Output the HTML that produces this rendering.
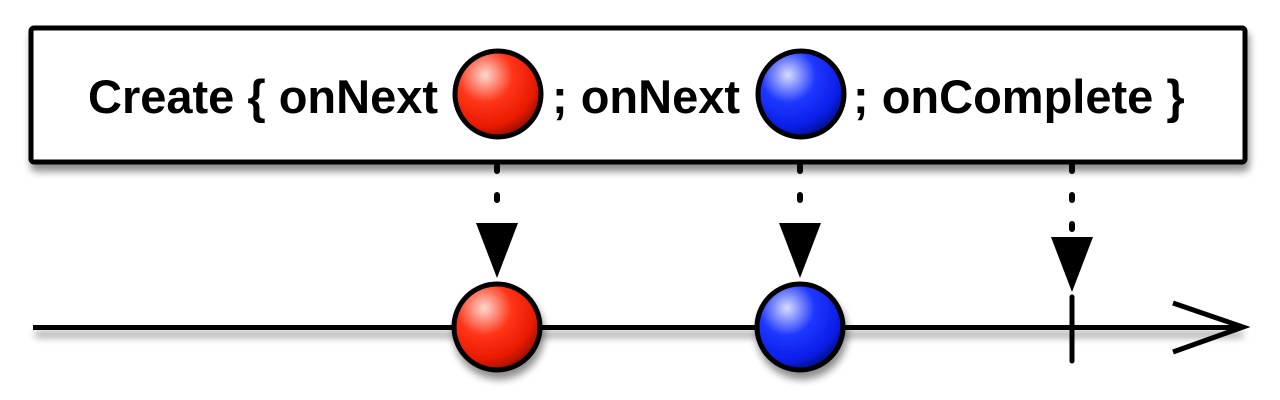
<!DOCTYPE html>
<html><head><meta charset="utf-8"><style>
html,body{margin:0;padding:0;background:#fff;width:1280px;height:400px;overflow:hidden}
svg text{font-family:"Liberation Sans",Arial,sans-serif;font-weight:bold;font-size:47px;fill:#000}
</style></head><body>
<svg id="chart" width="1280" height="400" viewBox="0 0 1280 400" xmlns="http://www.w3.org/2000/svg">
<defs>
<radialGradient id="gRed" cx="0.35" cy="0.28" r="0.8">
<stop offset="0" stop-color="#ffd8d0"/><stop offset="0.4" stop-color="#ff3518"/><stop offset="0.75" stop-color="#e81a00"/><stop offset="1" stop-color="#7a0a00"/></radialGradient>
<radialGradient id="gBlue" cx="0.35" cy="0.28" r="0.8">
<stop offset="0" stop-color="#d8dcff"/><stop offset="0.4" stop-color="#1e38ff"/><stop offset="0.75" stop-color="#0a1ee8"/><stop offset="1" stop-color="#000a70"/></radialGradient>
<filter id="sh" filterUnits="userSpaceOnUse" x="0" y="0" width="1280" height="400"><feGaussianBlur in="SourceAlpha" stdDeviation="4"/><feOffset dx="2" dy="7"/><feComponentTransfer><feFuncA type="linear" slope="0.45"/></feComponentTransfer><feMerge><feMergeNode/><feMergeNode in="SourceGraphic"/></feMerge></filter>
</defs>
<rect x="31" y="28" width="1214" height="134" rx="3" fill="#fff" stroke="#000" stroke-width="5" filter="url(#sh)"/>
<text x="88" y="113">Create { onNext</text>
<text x="552" y="113">; onNext</text>
<text x="853" y="113">; onComplete }</text>
<g id="topLayer"></g>
<rect x="33" y="325" width="1208" height="5" fill="#000" filter="url(#sh)"/>
<polyline points="1173,303 1243,327 1173,352" fill="none" stroke="#000" stroke-width="5"/>
<g id="marks"></g>
</svg>
<script>
const eventTimes = [4.64, 7.67, 10.39];
const eventTypes = ["next", "next", "complete"];
const eventColors = ["red", "blue", null];
const NS = "http://www.w3.org/2000/svg";
function xScale(t){ return 33 + t * 100; }
const marksG = document.getElementById("marks");
const topG = document.getElementById("topLayer");
function mk(tag, attrs, parent){ const e=document.createElementNS(NS,tag); for(const k in attrs) e.setAttribute(k,attrs[k]); parent.appendChild(e); return e; }
eventTimes.forEach((t,i)=>{
  const x = xScale(t);
  const isNext = eventTypes[i]==="next";
  const d = mk("line",{x1:x,y1:166,x2:x,y2:isNext?224:234,stroke:"#000","stroke-width":6,"stroke-linecap":"round","stroke-dasharray":"5 24"},topG);
  
  
  const ty = isNext ? 223 : 237;
  const tri = mk("polygon",{points:`${x-21},${ty} ${x+21},${ty} ${x},${ty+55}`,fill:"#000"},topG);
  
  
  if(isNext){
    const fill = eventColors[i]==="red" ? "url(#gRed)" : "url(#gBlue)";
    const c1 = mk("circle",{cx:x+1,cy:94,r:43,fill:fill,stroke:"#000","stroke-width":5},topG);
    
    
    const c2 = mk("circle",{cx:x,cy:327,r:43,fill:fill,stroke:"#000","stroke-width":5,filter:"url(#sh)"},marksG);
    
    
  } else {
    const tk = mk("line",{x1:x,y1:297,x2:x,y2:361,stroke:"#000","stroke-width":5,"stroke-linecap":"round"},marksG);
    
    
  }
});
</script>
</body></html>
